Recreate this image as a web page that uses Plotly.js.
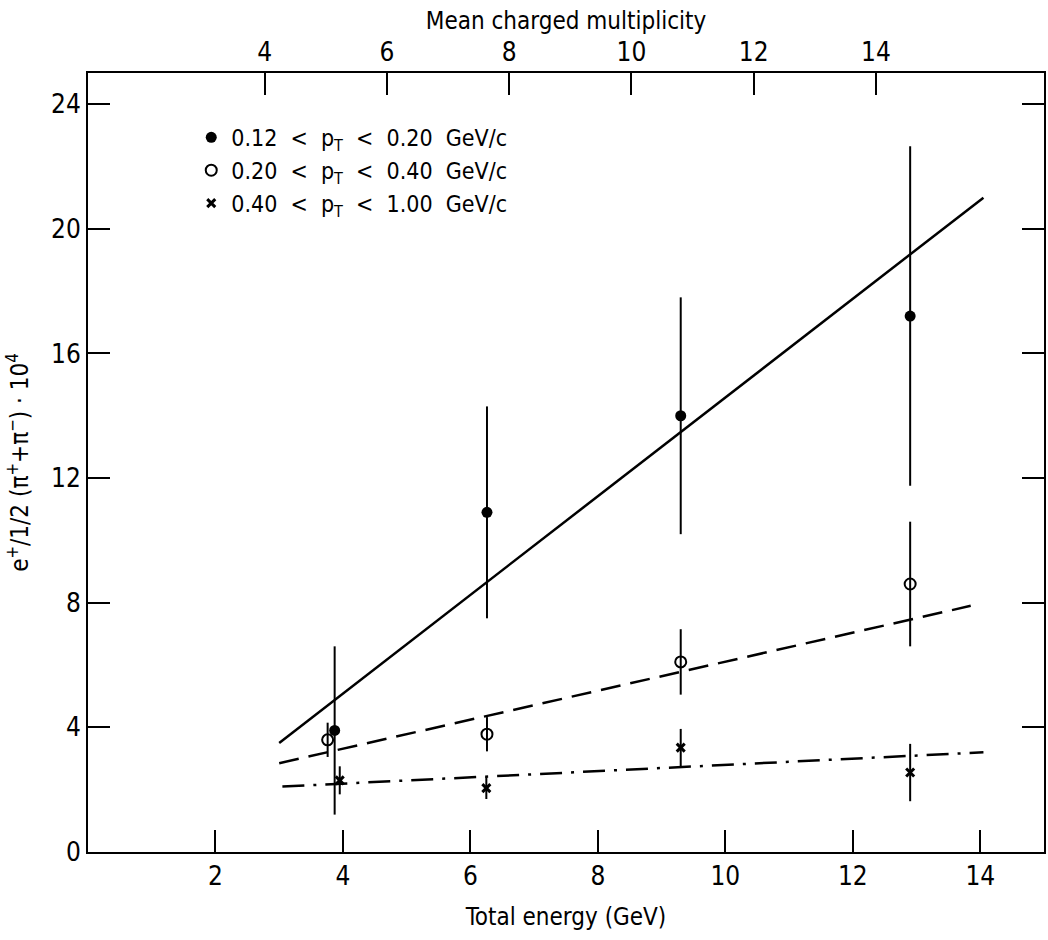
<!DOCTYPE html>
<html><head><meta charset="utf-8">
<script src="https://cdn.plot.ly/plotly-3.0.1.min.js"></script>
<style>body{margin:0;background:#fff}</style>
</head><body><div id="chart" style="width:1048px;height:940px"></div>
<script>
// Data
const energyLow  = [3.87, 6.26, 9.3, 12.9];
const ratioLow   = [3.9, 10.9, 14.0, 17.2];
const errLow     = [2.7, 3.4, 3.8, 5.45];
const energyMid  = [3.76, 6.26, 9.3, 12.9];
const ratioMid   = [3.6, 3.78, 6.1, 8.6];
const errMid     = [0.55, 0.55, 1.05, 2.0];
const energyHigh = [3.95, 6.25, 9.3, 12.9];
const ratioHigh  = [2.3, 2.05, 3.35, 2.55];
const errHigh    = [0.45, 0.35, 0.6, 0.92];
const fitEnergyLow  = [3.0, 14.05];
const fitLow        = [3.5, 21.0];
const fitEnergyMid  = [3.0, 13.85];
const fitMid        = [2.85, 7.9];
const fitEnergyHigh = [3.05, 14.05];
const fitHigh       = [2.1, 3.2];
const energyTicks = [2, 4, 6, 8, 10, 12, 14];
const ratioTicks  = [0, 4, 8, 12, 16, 20, 24];
const multTicks   = [4, 6, 8, 10, 12, 14];
const sp = '\u00a0\u00a0';
const legendLow  = '0.12' + sp + '<' + sp + 'p<sub>T</sub>' + sp + '<' + sp + '0.20' + sp + 'GeV/c';
const legendMid  = '0.20' + sp + '<' + sp + 'p<sub>T</sub>' + sp + '<' + sp + '0.40' + sp + 'GeV/c';
const legendHigh = '0.40' + sp + '<' + sp + 'p<sub>T</sub>' + sp + '<' + sp + '1.00' + sp + 'GeV/c';

const FONT = '"DejaVu Sans Condensed", "Liberation Sans Narrow", "Roboto", sans-serif';

const errStyle = (arr) => ({type: 'data', array: arr, visible: true, width: 0, thickness: 2, color: '#000'});

const traces = [
  {x: fitEnergyLow, y: fitLow, mode: 'lines', line: {color: '#000', width: 2.5}, showlegend: false, hoverinfo: 'skip'},
  {x: fitEnergyMid, y: fitMid, mode: 'lines', line: {color: '#000', width: 2.5, dash: '20px,10px'}, showlegend: false, hoverinfo: 'skip'},
  {x: fitEnergyHigh, y: fitHigh, mode: 'lines', line: {color: '#000', width: 2.5, dash: '22px,9px,3px,9px'}, showlegend: false, hoverinfo: 'skip'},
  {x: energyLow, y: ratioLow, mode: 'markers', name: legendLow, error_y: errStyle(errLow),
   marker: {symbol: 'circle', size: 11, color: '#000'}},
  {x: energyMid, y: ratioMid, mode: 'markers', name: legendMid, error_y: errStyle(errMid),
   marker: {symbol: 'circle-open', size: 11, color: '#000', line: {width: 2}}},
  {x: energyHigh, y: ratioHigh, mode: 'markers', name: legendHigh, error_y: errStyle(errHigh),
   marker: {symbol: 'x-thin-open', size: 8, color: '#000', line: {width: 3, color: '#000'}}},
  {x: multTicks, y: multTicks.map(() => null), xaxis: 'x2', mode: 'markers', showlegend: false, hoverinfo: 'skip'}
];

const layout = {
  width: 1048, height: 940,
  paper_bgcolor: '#fff', plot_bgcolor: '#fff',
  margin: {l: 88, r: 4, t: 73, b: 88},
  font: {family: FONT, color: '#000', size: 24},
  showlegend: true,
  legend: {x: 0.108, y: 0.945, xanchor: 'left', yanchor: 'top', bgcolor: 'rgba(0,0,0,0)',
           font: {family: FONT, size: 23, color: '#000'}, tracegroupgap: 0, itemwidth: 30},
  xaxis: {range: [0, 15], tickvals: energyTicks, ticktext: energyTicks.map(String),
          ticks: 'inside', ticklen: 22, tickwidth: 2, tickcolor: '#000',
          showline: true, linewidth: 2, linecolor: '#000', showgrid: false, zeroline: false,
          tickfont: {family: FONT, size: 26},
          title: {text: 'Total energy (GeV)', font: {family: FONT, size: 24}, standoff: 18}},
  xaxis2: {overlaying: 'x', side: 'top', range: [1.11, 16.75], tickvals: multTicks,
           ticktext: multTicks.map(String),
           ticks: 'inside', ticklen: 22, tickwidth: 2, tickcolor: '#000',
           showline: true, linewidth: 2, linecolor: '#000', showgrid: false, zeroline: false,
           tickfont: {family: FONT, size: 26},
           title: {text: 'Mean charged multiplicity', font: {family: FONT, size: 24}, standoff: 0}},
  yaxis: {range: [0, 25], tickvals: ratioTicks, ticktext: ratioTicks.map(String),
          ticks: 'inside', ticklen: 22, tickwidth: 2, tickcolor: '#000', mirror: 'ticks',
          showline: true, linewidth: 2, linecolor: '#000', showgrid: false, zeroline: false,
          tickfont: {family: FONT, size: 26},
          title: {text: 'e<sup>+</sup>/1/2 (\u03c0<sup>+</sup>+\u03c0<sup>\u2212</sup>) \u00b7 10<sup>4</sup>',
                  font: {family: FONT, size: 24}, standoff: 16}}
};

Plotly.newPlot('chart', traces, layout, {displayModeBar: false, staticPlot: true});
</script>
</body></html>
